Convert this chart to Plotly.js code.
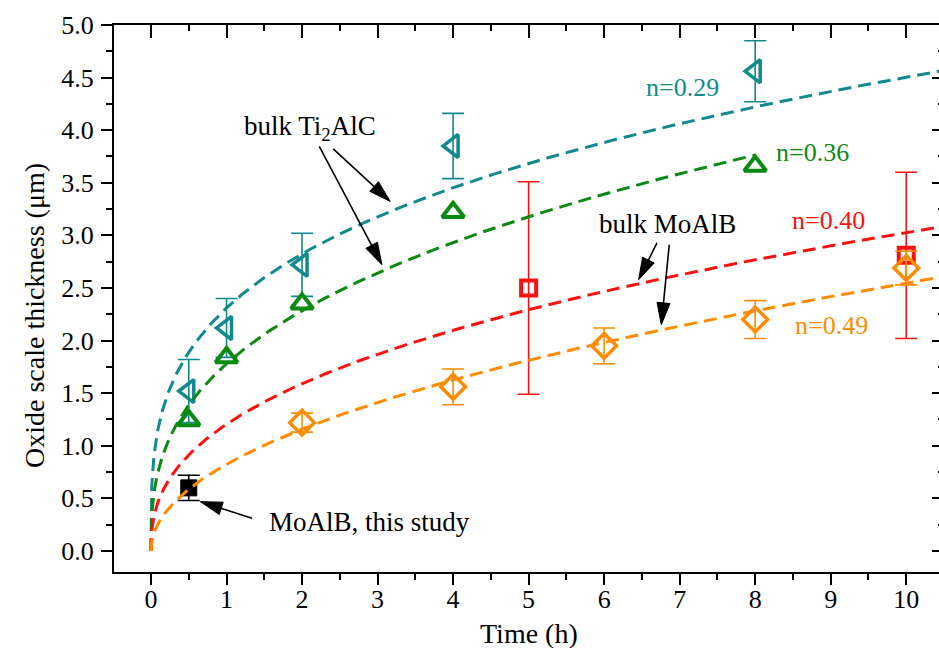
<!DOCTYPE html>
<html>
<head>
<meta charset="utf-8">
<script src="https://cdn.plot.ly/plotly-3.0.1.min.js"></script>
<style>
  html, body { margin: 0; padding: 0; background: #ffffff; overflow: hidden; }
  #chart { width: 946px; height: 648px; }
</style>
</head>
<body>
<div id="chart"></div>
<script>
// ---- data ----
const timeTi2AlC_A = [0.5, 1, 2, 4, 8];
const thickTi2AlC_A = [1.52, 2.12, 2.72, 3.85, 4.56];
const errTi2AlC_A = [0.30, 0.28, 0.30, 0.31, 0.29];

const timeTi2AlC_B = [0.5, 1, 2, 4, 8];
const thickTi2AlC_B = [1.24, 1.84, 2.35, 3.22, 3.66];

const timeMoAlB_A = [5, 10];
const thickMoAlB_A = [2.50, 2.81];
const errMoAlB_A = [1.01, 0.79];

const timeMoAlB_B = [2, 4, 6, 8, 10];
const thickMoAlB_B = [1.22, 1.56, 1.95, 2.20, 2.69];
const errMoAlB_B = [0.09, 0.17, 0.17, 0.18, 0.16];

const timeThisStudy = [0.5];
const thickThisStudy = [0.60];
const errThisStudy = [0.12];

// power-law fits y = k * t^n
const fitLabels = ['n=0.29', 'n=0.36', 'n=0.40', 'n=0.49'];
const fitN = [0.29, 0.36, 0.40, 0.49];
const fitK = [2.31, 1.78, 1.205, 0.824];
const fitTEnd = [10.5, 8, 10.5, 10.5];

const xTickVals = [0, 1, 2, 3, 4, 5, 6, 7, 8, 9, 10];
const yTickVals = [0.0, 0.5, 1.0, 1.5, 2.0, 2.5, 3.0, 3.5, 4.0, 4.5, 5.0];

// ---- styles ----
const cTeal = '#12898d';
const cGreen = '#0b8a12';
const cRed = '#ff1010';
const cOrange = '#ff8c00';
const fitColors = [cTeal, cGreen, cRed, cOrange];
const FONT = 'Liberation Serif, Times New Roman, serif';

const W = 946, H = 648;
const M = {l: 114, r: 2, t: 25, b: 76};
const xRange = [-0.49, 10.5];
const yRange = [-0.2, 5.0];
const pxPerX = (W - M.l - M.r) / (xRange[1] - xRange[0]);
const pxPerY = (H - M.t - M.b) / (yRange[1] - yRange[0]);
const toPx = (x, y) => [M.l + (x - xRange[0]) * pxPerX, M.t + (yRange[1] - y) * pxPerY];
const toData = (px, py) => [xRange[0] + (px - M.l) / pxPerX, yRange[1] - (py - M.t) / pxPerY];

function fitCurve(i) {
  const xs = [], ys = [];
  const N = 400;
  for (let j = 0; j <= N; j++) {
    const t = fitTEnd[i] * Math.pow(j / N, 2);
    xs.push(t);
    ys.push(fitK[i] * Math.pow(t, fitN[i]));
  }
  return {x: xs, y: ys};
}

const traces = [];
function errBar(arr, color) {
  return {type: 'data', array: arr, visible: true, color: color, thickness: 1.6, width: 11};
}

traces.push({
  x: timeTi2AlC_A, y: thickTi2AlC_A, mode: 'markers', type: 'scatter',
  marker: {symbol: 'triangle-left-open', size: 20, color: cTeal, line: {width: 3.5, color: cTeal}},
  error_y: errBar(errTi2AlC_A, cTeal), showlegend: false, hoverinfo: 'skip'
});
traces.push({
  x: timeTi2AlC_B, y: thickTi2AlC_B, mode: 'markers', type: 'scatter',
  marker: {symbol: 'triangle-up-open', size: 19, color: cGreen, line: {width: 4, color: cGreen}},
  showlegend: false, hoverinfo: 'skip'
});
traces.push({
  x: timeMoAlB_A, y: thickMoAlB_A, mode: 'markers', type: 'scatter',
  marker: {symbol: 'square-open', size: 15, color: cRed, line: {width: 4, color: cRed}},
  error_y: errBar(errMoAlB_A, cRed), showlegend: false, hoverinfo: 'skip'
});
traces.push({
  x: timeMoAlB_B, y: thickMoAlB_B, mode: 'markers', type: 'scatter',
  marker: {symbol: 'diamond-open', size: 19, color: cOrange, line: {width: 3.5, color: cOrange}},
  error_y: errBar(errMoAlB_B, cOrange), showlegend: false, hoverinfo: 'skip'
});
traces.push({
  x: timeThisStudy, y: thickThisStudy, mode: 'markers', type: 'scatter',
  marker: {symbol: 'square', size: 16, color: '#000000', line: {width: 1, color: '#000000'}},
  error_y: errBar(errThisStudy, '#000000'), showlegend: false, hoverinfo: 'skip'
});

for (let i = 0; i < fitN.length; i++) {
  const c = fitCurve(i);
  traces.push({
    x: c.x, y: c.y, mode: 'lines', type: 'scatter',
    line: {color: fitColors[i], width: 3, dash: '13px,7px'},
    showlegend: false, hoverinfo: 'skip', name: fitLabels[i]
  });
}

// empty trace so the mirrored top/right axes are drawn
traces.push({x: [], y: [], xaxis: 'x2', yaxis: 'y2', type: 'scatter', mode: 'markers',
  showlegend: false, hoverinfo: 'skip'});

const axisCommon = {
  showgrid: false, zeroline: false, showline: true, linecolor: '#000000', linewidth: 2,
  tickcolor: '#000000', tickwidth: 2
};

// arrows as line + slender filled head (pixel geometry -> data coords)
const shapes = [];
function arrow(xh, yh, xt, yt) {
  const [hx, hy] = toPx(xh, yh);
  const [tx, ty] = toPx(xt, yt);
  const dx = hx - tx, dy = hy - ty, L = Math.hypot(dx, dy);
  const ux = dx / L, uy = dy / L;
  const hl = 22, hw = 6.5;
  const bx = hx - ux * hl, by = hy - uy * hl;
  const p1 = toData(bx - uy * hw, by + ux * hw);
  const p2 = toData(bx + uy * hw, by - ux * hw);
  const base = toData(bx + ux * 2, by + uy * 2);
  shapes.push({type: 'line', xref: 'x', yref: 'y', x0: xt, y0: yt, x1: base[0], y1: base[1],
    line: {color: '#000000', width: 1.6}});
  shapes.push({type: 'path', xref: 'x', yref: 'y',
    path: `M${xh},${yh} L${p1[0]},${p1[1]} L${p2[0]},${p2[1]} Z`,
    fillcolor: '#000000', line: {color: '#000000', width: 1}});
}
arrow(3.168, 3.323, 2.413, 3.822);
arrow(3.058, 2.721, 2.228, 3.847);
arrow(6.456, 2.578, 6.699, 2.928);
arrow(6.757, 2.150, 6.862, 2.911);
arrow(0.653, 0.469, 1.337, 0.311);

function txt(px, py, text, color, size) {
  const [x, y] = toData(px, py);
  return {x: x, y: y, xref: 'x', yref: 'y', xanchor: 'center', yanchor: 'middle',
    text: text, showarrow: false, font: {family: FONT, size: size, color: color}};
}

const annotations = [
  txt(682, 87, fitLabels[0], cTeal, 26),
  txt(812, 152, fitLabels[1], cGreen, 26),
  txt(828, 220, fitLabels[2], cRed, 26),
  txt(831, 325, fitLabels[3], cOrange, 26),
  txt(310, 128, 'bulk Ti<sub>2</sub>AlC', '#000000', 27),
  txt(667, 224, 'bulk MoAlB', '#000000', 27),
  txt(369, 522, 'MoAlB, this study', '#000000', 27),
  {xref: 'paper', yref: 'paper', x: (529 - M.l) / (W - M.l - M.r), y: (H - M.b - 633) / (H - M.t - M.b),
   xanchor: 'center', yanchor: 'middle', showarrow: false,
   text: 'Time (h)', font: {family: FONT, size: 28, color: '#000000'}},
  {xref: 'paper', yref: 'paper', x: (35 - M.l) / (W - M.l - M.r), y: (H - M.b - 316) / (H - M.t - M.b),
   xanchor: 'center', yanchor: 'middle', showarrow: false,
   textangle: -90, text: 'Oxide scale thickness (\u03bcm)', font: {family: FONT, size: 28, color: '#000000'}}
];

const layout = {
  width: W, height: H,
  margin: {l: M.l, r: M.r, t: M.t, b: M.b, pad: 0},
  paper_bgcolor: '#ffffff', plot_bgcolor: '#ffffff',
  font: {family: FONT, size: 26, color: '#000000'},
  showlegend: false,
  xaxis: Object.assign({}, axisCommon, {
    range: xRange, tickmode: 'array', tickvals: xTickVals, ticktext: xTickVals.map(String),
    ticks: 'outside', ticklen: 11, ticklabelstandoff: -8,
    minor: {ticks: 'outside', ticklen: 6, dtick: 0.5, tick0: 0, tickcolor: '#000000', tickwidth: 2},
    tickfont: {family: FONT, size: 26, color: '#000000'}
  }),
  yaxis: Object.assign({}, axisCommon, {
    range: yRange, tickmode: 'array', tickvals: yTickVals, ticktext: yTickVals.map(v => v.toFixed(1)),
    ticks: 'outside', ticklen: 11, ticklabelstandoff: 2,
    minor: {ticks: 'outside', ticklen: 6, dtick: 0.25, tick0: 0, tickcolor: '#000000', tickwidth: 2},
    tickfont: {family: FONT, size: 26, color: '#000000'}
  }),
  xaxis2: Object.assign({}, axisCommon, {
    range: xRange, overlaying: 'x', side: 'top', anchor: 'y2',
    tickmode: 'linear', tick0: 0, dtick: 1, ticks: 'inside', ticklen: 13, showticklabels: false,
    minor: {ticks: 'inside', ticklen: 6, dtick: 0.5, tick0: 0, tickcolor: '#000000', tickwidth: 2}
  }),
  yaxis2: Object.assign({}, axisCommon, {
    range: yRange, overlaying: 'y', side: 'right', anchor: 'x2',
    tickmode: 'linear', tick0: 0, dtick: 0.5, ticks: 'inside', ticklen: 12, showticklabels: false,
    minor: {ticks: 'inside', ticklen: 6, dtick: 0.25, tick0: 0, tickcolor: '#000000', tickwidth: 2}
  }),
  shapes: shapes,
  annotations: annotations
};

Plotly.newPlot('chart', traces, layout, {displayModeBar: false, staticPlot: true});
</script>
</body>
</html>
